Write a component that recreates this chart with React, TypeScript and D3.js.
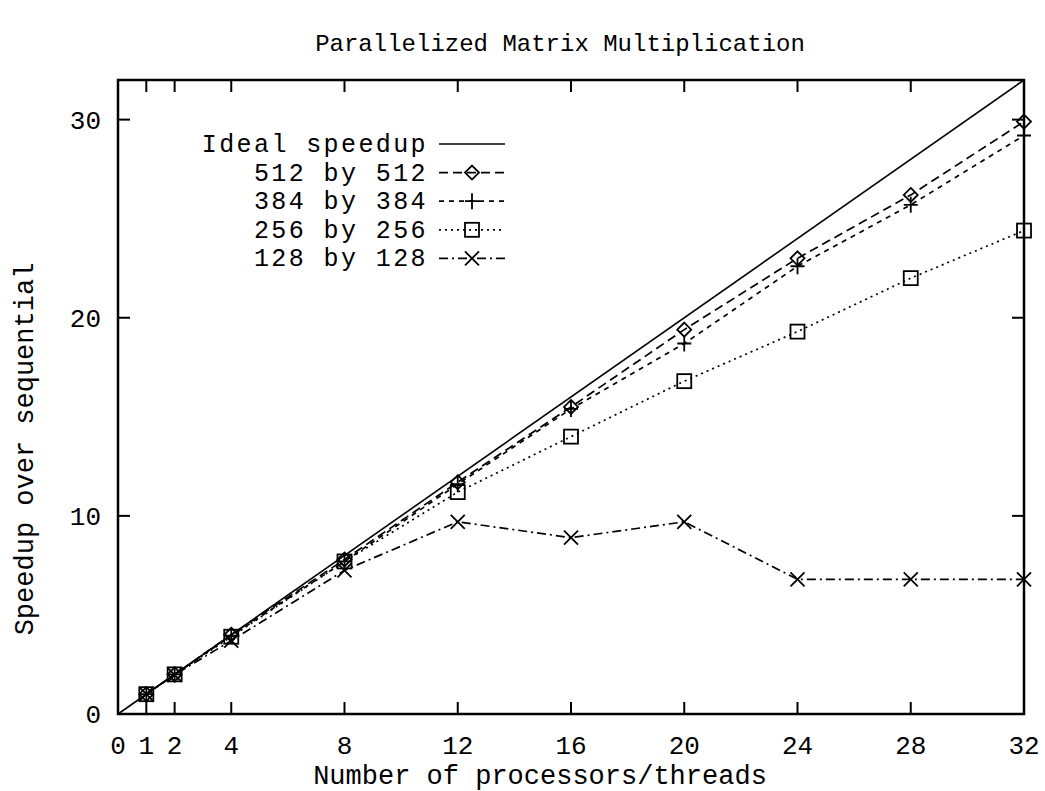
import React from "react";
import * as d3 from "d3";

// Speedup measurements per matrix size, against processor/thread count
const PROCS = [1, 2, 4, 8, 12, 16, 20, 24, 28, 32];
const SPEEDUP_512 = [1, 2, 4.0, 7.8, 11.7, 15.5, 19.4, 23.0, 26.2, 29.9];
const SPEEDUP_384 = [1, 2, 3.95, 7.7, 11.6, 15.4, 18.7, 22.6, 25.7, 29.2];
const SPEEDUP_256 = [1, 2, 3.9, 7.7, 11.2, 14.0, 16.8, 19.3, 22.0, 24.4];
const SPEEDUP_128 = [1, 1.98, 3.7, 7.25, 9.7, 8.9, 9.7, 6.8, 6.8, 6.8];
const IDEAL = [0, 32];

const X_TICKS = [0, 1, 2, 4, 8, 12, 16, 20, 24, 28, 32];
const Y_TICKS = [0, 10, 20, 30];

const TITLE = "Parallelized Matrix Multiplication";
const X_LABEL = "Number of processors/threads";
const Y_LABEL = "Speedup over sequential";

type MarkerKind = "none" | "diamond" | "plus" | "square" | "cross";

const SERIES: { name: string; values: number[]; dash: string; marker: MarkerKind }[] = [
  { name: "512 by 512", values: SPEEDUP_512, dash: "9,5", marker: "diamond" },
  { name: "384 by 384", values: SPEEDUP_384, dash: "5,5", marker: "plus" },
  { name: "256 by 256", values: SPEEDUP_256, dash: "2,4", marker: "square" },
  { name: "128 by 128", values: SPEEDUP_128, dash: "9,4,2,4", marker: "cross" },
];

const FONT = "'Liberation Mono', 'Courier New', monospace";
const W = 1045;
const H = 791;
const M = { left: 118, right: 1024, top: 80, bottom: 714 };

function Marker({ kind, x, y }: { kind: MarkerKind; x: number; y: number }) {
  const s = 7;
  const common = { fill: "none", stroke: "#000", strokeWidth: 1.8 };
  if (kind === "diamond")
    return <path d={`M${x},${y - s}L${x + s},${y}L${x},${y + s}L${x - s},${y}Z`} {...common} />;
  if (kind === "plus")
    return <path d={`M${x - s},${y}H${x + s}M${x},${y - s - 1}V${y + s + 1}`} {...common} />;
  if (kind === "square")
    return <rect x={x - s} y={y - s} width={2 * s} height={2 * s} {...common} />;
  if (kind === "cross")
    return <path d={`M${x - s},${y - s}L${x + s},${y + s}M${x + s},${y - s}L${x - s},${y + s}`} {...common} />;
  return null;
}

export default function App() {
  const x = d3.scaleLinear().domain([0, 32]).range([M.left, M.right]);
  const y = d3.scaleLinear().domain([0, 32]).range([M.bottom, M.top]);
  const line = d3
    .line<[number, number]>()
    .x((d) => x(d[0]))
    .y((d) => y(d[1]));
  const tick = 12;

  const legendRight = 428;
  const legendY0 = 144;
  const legendStep = 28.6;
  const sampleX0 = 439;
  const sampleX1 = 505;
  const legendFont = 25;
  const legendSpacing = 2.4;

  return (
    <svg
      width={W}
      height={H}
      style={{ position: "absolute", left: 0, top: 0, background: "#fff" }}
      fontFamily={FONT}
    >
      <rect width={W} height={H} fill="#fff" />
      <text x={560} y={51} fontSize={24} textAnchor="middle" fill="#000">
        {TITLE}
      </text>

      {/* frame */}
      <rect
        x={M.left}
        y={M.top}
        width={M.right - M.left}
        height={M.bottom - M.top}
        fill="none"
        stroke="#000"
        strokeWidth={2.5}
      />

      {/* ticks on all four sides */}
      {X_TICKS.map((t) => (
        <g key={"xt" + t}>
          <line x1={x(t)} x2={x(t)} y1={M.bottom} y2={M.bottom - tick} stroke="#000" strokeWidth={2} />
          <line x1={x(t)} x2={x(t)} y1={M.top} y2={M.top + tick} stroke="#000" strokeWidth={2} />
          <text x={x(t)} y={754} fontSize={26} textAnchor="middle" fill="#000">
            {t}
          </text>
        </g>
      ))}
      {Y_TICKS.map((t) => (
        <g key={"yt" + t}>
          <line x1={M.left} x2={M.left + tick} y1={y(t)} y2={y(t)} stroke="#000" strokeWidth={2} />
          <line x1={M.right} x2={M.right - tick} y1={y(t)} y2={y(t)} stroke="#000" strokeWidth={2} />
          <text x={101} y={y(t) + 9} fontSize={26} textAnchor="end" fill="#000">
            {t}
          </text>
        </g>
      ))}

      <text x={540} y={784} fontSize={27} textAnchor="middle" fill="#000">
        {X_LABEL}
      </text>
      <text
        transform={`translate(33,449) rotate(-90)`}
        fontSize={27}
        textAnchor="middle"
        fill="#000"
      >
        {Y_LABEL}
      </text>

      {/* ideal speedup */}
      <path
        d={line(IDEAL.map((v) => [v, v] as [number, number])) || ""}
        fill="none"
        stroke="#000"
        strokeWidth={1.6}
      />

      {/* measured series */}
      {SERIES.map((s) => (
        <g key={s.name}>
          <path
            d={line(PROCS.map((p, i) => [p, s.values[i]] as [number, number])) || ""}
            fill="none"
            stroke="#000"
            strokeWidth={1.7}
            strokeDasharray={s.dash}
          />
          {PROCS.map((p, i) => (
            <Marker key={p} kind={s.marker} x={x(p)} y={y(s.values[i])} />
          ))}
        </g>
      ))}

      {/* legend */}
      <g>
        <text
          x={legendRight}
          y={legendY0 + 8}
          fontSize={legendFont}
          letterSpacing={legendSpacing}
          textAnchor="end"
          fill="#000"
        >
          Ideal speedup
        </text>
        <line x1={sampleX0} x2={sampleX1} y1={legendY0} y2={legendY0} stroke="#000" strokeWidth={1.6} />
        {SERIES.map((s, i) => {
          const ly = legendY0 + (i + 1) * legendStep;
          return (
            <g key={"lg" + s.name}>
              <text
                x={legendRight}
                y={ly + 8}
                fontSize={legendFont}
                letterSpacing={legendSpacing}
                textAnchor="end"
                fill="#000"
              >
                {s.name}
              </text>
              <line
                x1={sampleX0}
                x2={sampleX1}
                y1={ly}
                y2={ly}
                stroke="#000"
                strokeWidth={1.7}
                strokeDasharray={s.dash}
              />
              <Marker kind={s.marker} x={(sampleX0 + sampleX1) / 2} y={ly} />
            </g>
          );
        })}
      </g>
    </svg>
  );
}
